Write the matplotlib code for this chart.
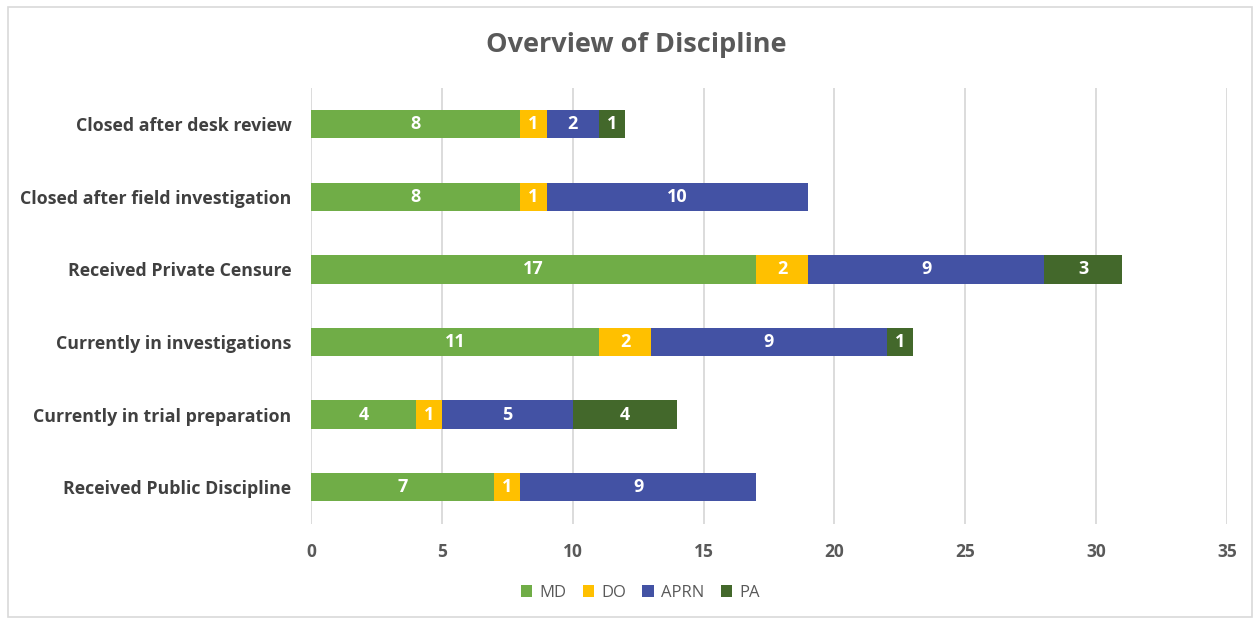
import numpy as np
import matplotlib.pyplot as plt
from matplotlib.patches import Rectangle

plt.rcParams["font.family"] = ["Open Sans", "DejaVu Sans"]

categories = [
    "Closed after desk review",
    "Closed after field investigation",
    "Received Private Censure",
    "Currently in investigations",
    "Currently in trial preparation",
    "Received Public Discipline",
]
series_names = ["MD", "DO", "APRN", "PA"]
md = [8, 8, 17, 11, 4, 7]
do = [1, 1, 2, 2, 1, 1]
aprn = [2, 10, 9, 9, 5, 9]
pa = [1, 0, 3, 1, 4, 0]
colors = ["#70AD47", "#FFC000", "#4352A4", "#43682B"]

fig = plt.figure(figsize=(12.6, 6.2), dpi=100)
fig.patches.append(Rectangle((8 / 1260, 0.005), 1 - 16 / 1260, 1 - 7 / 620 - 0.005,
                             transform=fig.transFigure, fill=False,
                             edgecolor="#D9D9D9", linewidth=1.2))
ax = fig.add_axes([311 / 1260, 0.1555, (1227 - 311) / 1260, 0.703])

y = np.arange(len(categories))
left = np.zeros(len(categories))
for name, vals, col in zip(series_names, [md, do, aprn, pa], colors):
    vals = np.array(vals, dtype=float)
    bars = ax.barh(y, vals, left=left, height=0.39, color=col, label=name, zorder=3)
    for b, v in zip(bars, vals):
        if v > 0:
            ax.text(b.get_x() + b.get_width() / 2, b.get_y() + b.get_height() / 2,
                    f"{int(v)}", ha="center", va="center", color="white",
                    fontsize=13, fontweight="bold", zorder=4)
    left += vals

ax.set_xlim(0, 35)
ax.set_ylim(len(categories) - 0.5, -0.5)
ax.set_xticks(range(0, 36, 5))
ax.set_yticks(y)
ax.set_yticklabels(categories, fontsize=12.8, fontweight="bold", color="#404040")
ax.tick_params(axis="x", labelsize=12.5, colors="#595959", length=0, pad=14)
ax.tick_params(axis="y", length=0, pad=14)
for lbl in ax.get_xticklabels():
    lbl.set_fontweight("bold")
ax.grid(axis="x", color="#D9D9D9", linewidth=1.3, zorder=0)
for s in ax.spines.values():
    s.set_visible(False)

fig.text(0.505, 1 - 45 / 620, "Overview of Discipline", fontsize=19.5, fontweight="bold",
         color="#595959", ha="center", va="center")

fig.legend(loc="center", bbox_to_anchor=(0.508, 1 - 593 / 620), ncol=4,
           frameon=False, fontsize=12, handlelength=0.7, handleheight=0.7,
           handletextpad=0.4, columnspacing=1.0, labelcolor="#595959")

fig.savefig("out.png", dpi=100)
